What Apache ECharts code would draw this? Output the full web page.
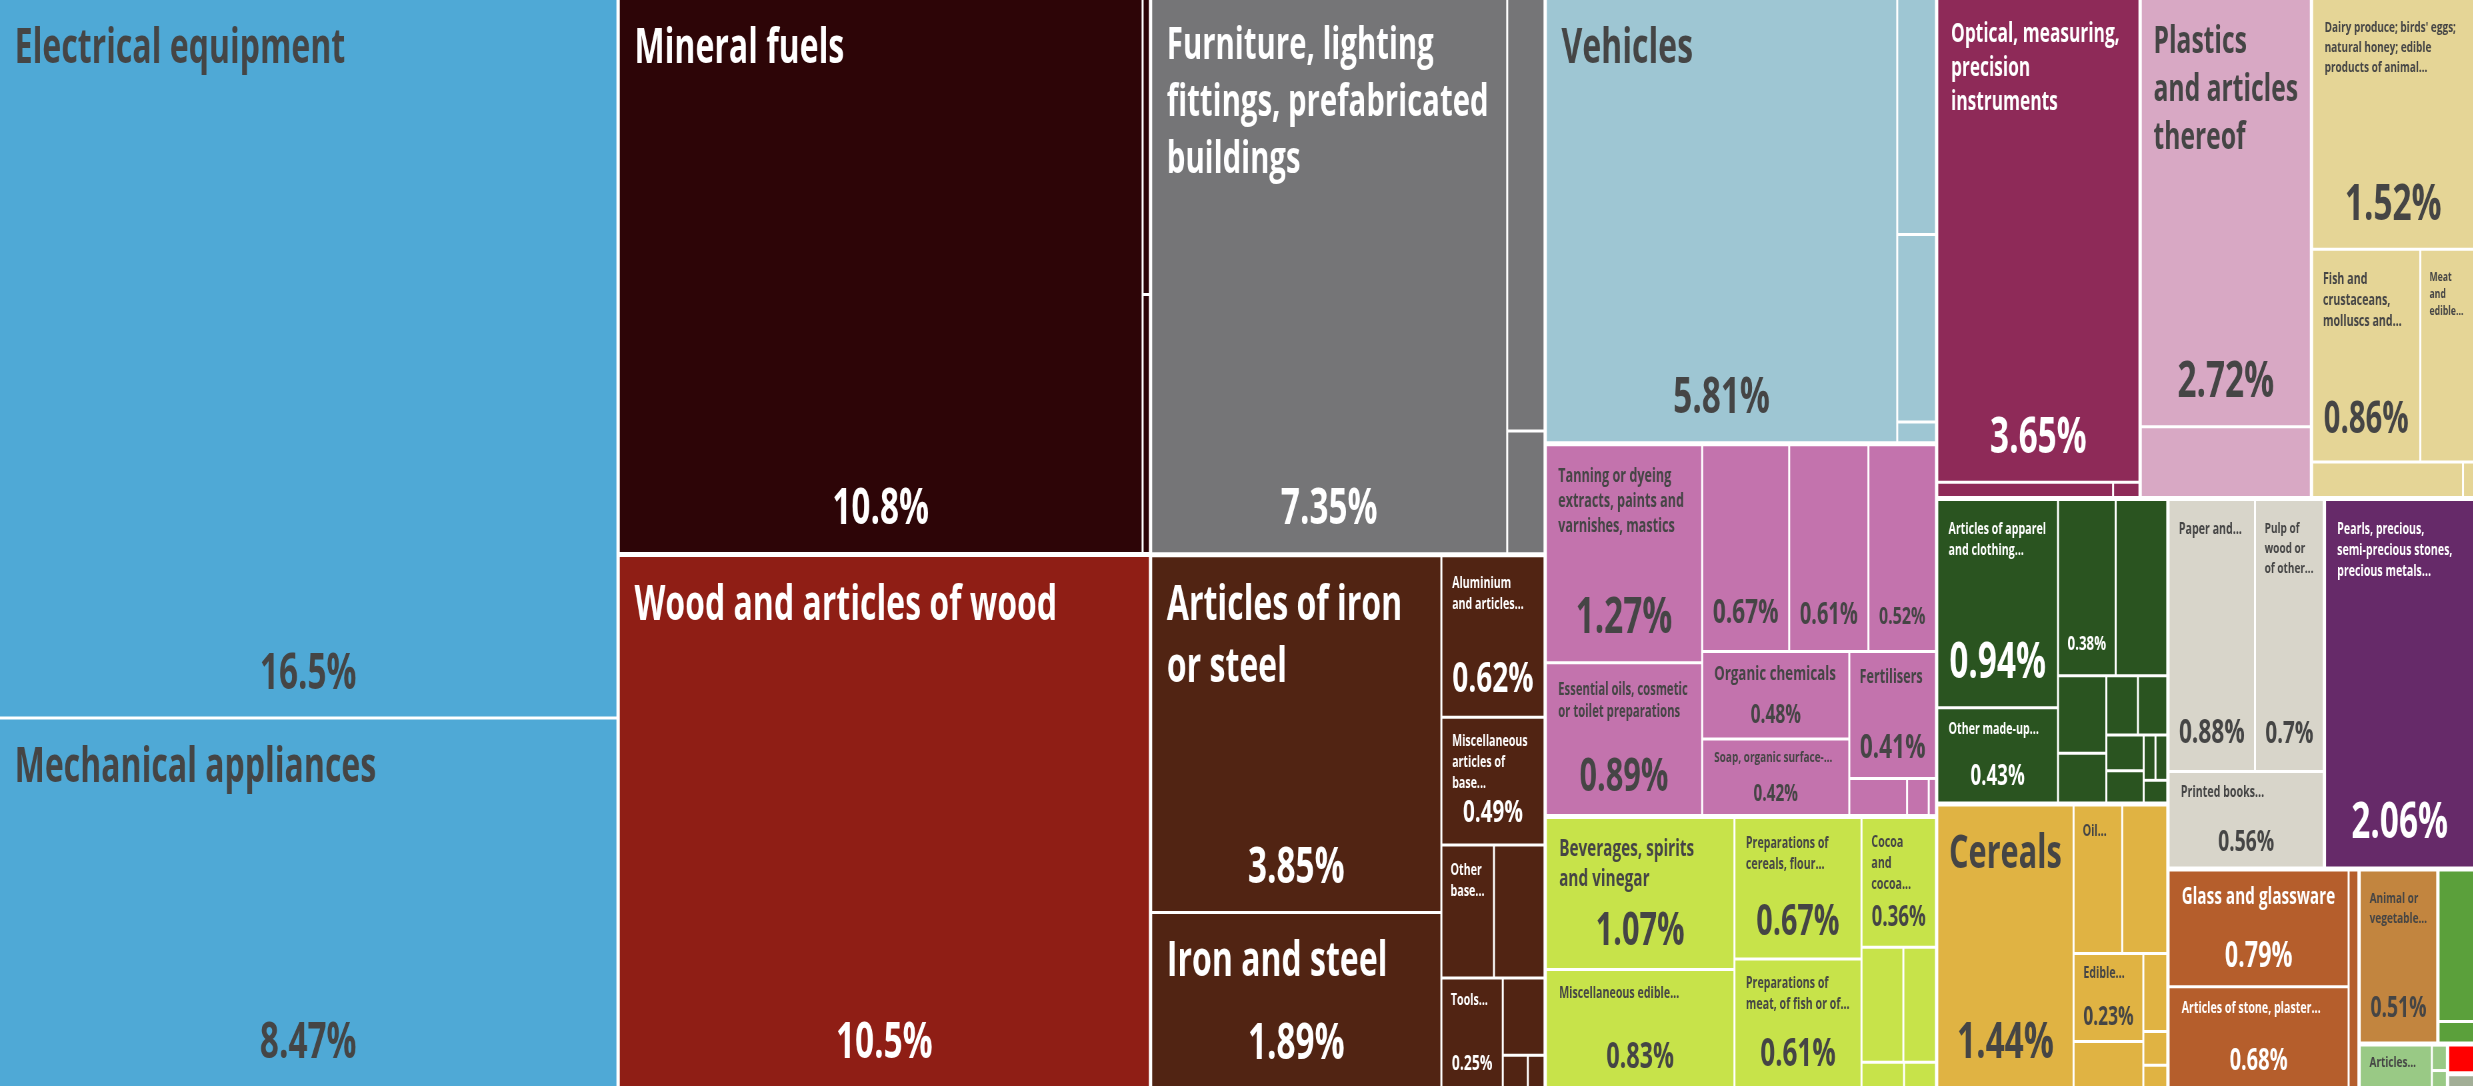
<!DOCTYPE html>
<html lang="en" style="height: 100%">
<head>
  <meta charset="utf-8">
</head>
<body style="height: 100%; margin: 0; overflow: hidden; background: #fff">
  <div id="container" style="height: 100%; transform-origin: 0 0"></div>

  <script type="text/javascript" src="https://cdn.jsdelivr.net/npm/echarts@6/dist/echarts.min.js"></script>
  <script type="text/javascript">
    // export shares (%) grouped by HS section; '' = product too small to carry a name
    var sectors = ['Machines', 'Mineral Products', 'Wood Products', 'Miscellaneous', 'Metals',
      'Transportation', 'Chemical Products', 'Foodstuffs', 'Instruments', 'Plastics and Rubbers',
      'Animal Products', 'Textiles', 'Vegetable Products', 'Paper Goods', 'Precious Metals',
      'Stone And Glass', 'Animal and Vegetable Bi-Products', 'Footwear and Headwear',
      'Animal Hides', 'Weapons', 'Arts and Antiques'];

    var sectorColors = ['#4fa9d6', '#2d0507', '#8f1e15', '#757577', '#512413',
      '#9ec6d3', '#c373ad', '#c7e34a', '#8e2a58', '#d8a8c4',
      '#e5d596', '#2a5420', '#e0b343', '#d8d5ca', '#662a69',
      '#b55e2c', '#c2853f', '#5ba03b', '#99c985', '#ff0000', '#a2ae96'];

    var productNames = [
      ['Electrical equipment', 'Mechanical appliances'],
      ['Mineral fuels', '', ''],
      ['Wood and articles of wood'],
      ['Furniture, lighting fittings, prefabricated buildings', '', ''],
      ['Articles of iron or steel', 'Iron and steel', 'Aluminium and articles...', 'Miscellaneous articles of base...', 'Other base...', '', 'Tools...', '', '', ''],
      ['Vehicles', '', '', ''],
      ['Tanning or dyeing extracts, paints and varnishes, mastics', 'Essential oils, cosmetic or toilet preparations', '', '', '', 'Organic chemicals', 'Soap, organic surface-...', 'Fertilisers', '', '', ''],
      ['Beverages, spirits and vinegar', 'Miscellaneous edible...', 'Preparations of cereals, flour...', 'Preparations of meat, of fish or of...', 'Cocoa and cocoa...', '', '', '', ''],
      ['Optical, measuring, precision instruments', '', ''],
      ['Plastics and articles thereof', ''],
      ["Dairy produce; birds' eggs; natural honey; edible products of animal...", 'Fish and crustaceans, molluscs and...', 'Meat and edible...', '', ''],
      ['Articles of apparel and clothing...', 'Other made-up...', '', '', '', '', '', '', '', '', '', '', ''],
      ['Cereals', 'Oil...', '', 'Edible...', '', '', '', ''],
      ['Paper and...', 'Pulp of wood or of other...', 'Printed books...'],
      ['Pearls, precious, semi-precious stones, precious metals...'],
      ['Glass and glassware', 'Articles of stone, plaster...', ''],
      ['Animal or vegetable...'],
      ['', ''],
      ['Articles...', '', ''],
      [''],
      ['']
    ];

    var productShares = [
      [16.5, 8.47],
      [10.8, 0.08, 0.07],
      [10.5],
      [7.35, 0.6, 0.17],
      [3.85, 1.89, 0.62, 0.49, 0.26, 0.25, 0.25, 0.12, 0.03, 0.02],
      [5.81, 0.34, 0.27, 0.03],
      [1.27, 0.89, 0.67, 0.61, 0.52, 0.48, 0.42, 0.41, 0.08, 0.03, 0.01],
      [1.07, 0.83, 0.67, 0.61, 0.36, 0.18, 0.14, 0.04, 0.03],
      [3.65, 0.1, 0.015],
      [2.72, 0.45],
      [1.52, 0.86, 0.43, 0.2, 0.015],
      [0.94, 0.43, 0.38, 0.34, 0.14, 0.09, 0.07, 0.065, 0.05, 0.045, 0.02, 0.02, 0.02],
      [1.44, 0.27, 0.25, 0.23, 0.12, 0.07, 0.03, 0.02],
      [0.88, 0.7, 0.56],
      [2.06],
      [0.79, 0.68, 0.08],
      [0.51],
      [0.21, 0.03],
      [0.12, 0.015, 0.01],
      [0.03],
      [0.015]
    ];

    // the squarified layout is computed on a wider canvas and then squeezed back to the window
    var SQUASH = 1.5;
    var FONT = '"Open Sans", "Noto Sans", sans-serif';
    var WEIGHT = 'bold';
    var DARK_TEXT = '#454545';

    var dom = document.getElementById('container');
    dom.style.width = window.innerWidth * SQUASH + 'px';
    dom.style.transform = 'scaleX(' + (1 / SQUASH) + ')';
    var myChart = echarts.init(dom, null, {
      renderer: 'canvas',
      useDirtyRect: false
    });
    var option;

    var leafByKey = {};
    var treeData = sectors.map(function (sector, i) {
      return {
        name: sector,
        itemStyle: {color: sectorColors[i]},
        children: productShares[i].map(function (share, j) {
          var leaf = {
            name: productNames[i][j],
            value: share,
            key: i + '_' + j,
            itemStyle: {color: sectorColors[i]}
          };
          leafByKey[leaf.key] = {leaf: leaf, sector: i};
          return leaf;
        })
      };
    });

    var measureCtx = document.createElement('canvas').getContext('2d');
    function textWidth(str, size) {
      measureCtx.font = WEIGHT + ' ' + size + 'px ' + FONT;
      return measureCtx.measureText(str).width;
    }

    function wrapWords(str, size, maxWidth) {
      var lines = [];
      var cur = '';
      str.split(' ').forEach(function (word) {
        var next = cur ? cur + ' ' + word : word;
        if (!cur || textWidth(next, size) <= maxWidth) {
          cur = next;
        } else {
          lines.push(cur);
          cur = word;
        }
      });
      if (cur) lines.push(cur);
      return lines;
    }

    function isLight(hex) {
      function lin(c) {
        c = c / 255;
        return c <= 0.03928 ? c / 12.92 : Math.pow((c + 0.055) / 1.055, 2.4);
      }
      var r = parseInt(hex.substr(1, 2), 16);
      var g = parseInt(hex.substr(3, 2), 16);
      var b = parseInt(hex.substr(5, 2), 16);
      return 0.2126 * lin(r) + 0.7152 * lin(g) + 0.0722 * lin(b) > 0.24;
    }

    function widestWord(name, size) {
      return Math.max.apply(null, name.split(' ').map(function (w) { return textWidth(w, size); }));
    }

    // full names grow to fill the cell; shortened ones ("...") stay small
    function fitName(name, avail, maxH) {
      var cut = /\.\.\.$/.test(name);
      var maxSize = cut ? 16 : 48;
      var room = cut ? maxH : maxH * 0.75;
      for (var s = maxSize; s >= 10; s--) {
        var lines = wrapWords(name, s, avail);
        if (lines.length <= 3 && lines.length * s * 1.3 <= room && widestWord(name, s) <= avail) {
          return {size: s, lines: lines};
        }
      }
      var all = wrapWords(name, 10, avail);
      var n = Math.max(1, Math.min(3, Math.floor(maxH / 13)));
      if (all.length > n) all = all.slice(0, n - 1).concat([all.slice(n - 1).join(' ')]);
      return {size: 10, lines: all};
    }

    // name at the top left, share at the bottom centre, sized to the cell
    function buildLabel(name, share, color, w, h) {
      var padX = Math.max(10, Math.min(22, 10 + w * 0.03));
      var padT = Math.min(18, Math.max(6, h * 0.1));
      var avail = w - 2 * padX;
      var textColor = isLight(color) ? DARK_TEXT : '#fff';

      var nameSize = 0;
      var nameLines = [];
      if (name && avail > 10) {
        var fit = fitName(name, avail, (h - padT) * 0.6);
        nameSize = fit.size;
        nameLines = fit.lines;
      }
      var nameLH = Math.round(nameSize * 1.3);
      var nameH = nameLines.length * nameLH;

      var pct = share + '%';
      var pctSize = 0;
      if (w / SQUASH >= 54 && h >= (name ? 60 : 100)) {
        pctSize = Math.floor(Math.min(50, avail / textWidth(pct, 1), h / 3.2, (h - padT - nameH - 8) / 1.3));
        if (pctSize < 10) pctSize = 0;
      }
      if (!nameLines.length && !pctSize) return {show: false};

      var padB = pctSize ? Math.max(3, Math.min(22, h * 0.12) - 0.25 * pctSize) : 0;
      var pctLH = Math.round(pctSize * 1.2);
      var gap = Math.floor(h - padT - padB - nameH - pctLH - 2);

      var parts = nameLines.map(function (l) { return '{n|' + l + '}'; });
      if (pctSize) {
        if (gap >= 4) parts.push('{s|}');
        parts.push('{p|' + pct + '}');
      }
      return {
        show: true,
        position: 'insideTopLeft',
        distance: 0,
        padding: [padT, padX, padB, padX],
        overflow: 'truncate',
        ellipsis: '...',
        formatter: parts.join('\n'),
        rich: {
          n: {fontFamily: FONT, fontWeight: WEIGHT, fontSize: nameSize || 12, lineHeight: nameLH || 14, color: textColor, align: 'left'},
          s: {height: Math.max(gap, 0), lineHeight: Math.max(gap, 0)},
          p: {fontFamily: FONT, fontWeight: WEIGHT, fontSize: pctSize || 12, lineHeight: pctLH || 14, color: textColor, align: 'center'}
        }
      };
    }

    option = {
      animation: false,
      series: [
        {
          type: 'treemap',
          left: 0,
          top: 0,
          width: '100%',
          height: '100%',
          squareRatio: 1.5,
          sort: false,
          roam: false,
          nodeClick: false,
          breadcrumb: {show: false},
          label: {show: false},
          upperLabel: {show: false},
          levels: [
            {itemStyle: {borderWidth: 0, gapWidth: 5, borderColor: '#fff'}},
            {itemStyle: {borderWidth: 0, gapWidth: 3, borderColor: '#fff'}},
            {itemStyle: {borderWidth: 0}}
          ],
          data: treeData
        }
      ]
    };
    myChart.setOption(option);

    // second pass: read the cell sizes the treemap produced and fit the labels into them
    try {
      var model = myChart.getModel ? myChart.getModel() : myChart._model;
      var tree = model.getSeriesByIndex(0).getData().tree;
      tree.root.eachNode(function (node) {
        if (node.children && node.children.length) return;
        var entry = leafByKey[node.getModel().get('key')];
        var layout = node.getLayout();
        if (!entry || !layout) return;
        entry.leaf.label = buildLabel(entry.leaf.name, entry.leaf.value, sectorColors[entry.sector], layout.width, layout.height);
      });
      myChart.setOption({series: [{data: treeData}]});
    } catch (e) {
      myChart.setOption({series: [{label: {show: true, position: 'insideTopLeft'}}]});
    }

    window.addEventListener('resize', function () {
      dom.style.width = window.innerWidth * SQUASH + 'px';
      myChart.resize();
    });
  </script>
</body>
</html>
